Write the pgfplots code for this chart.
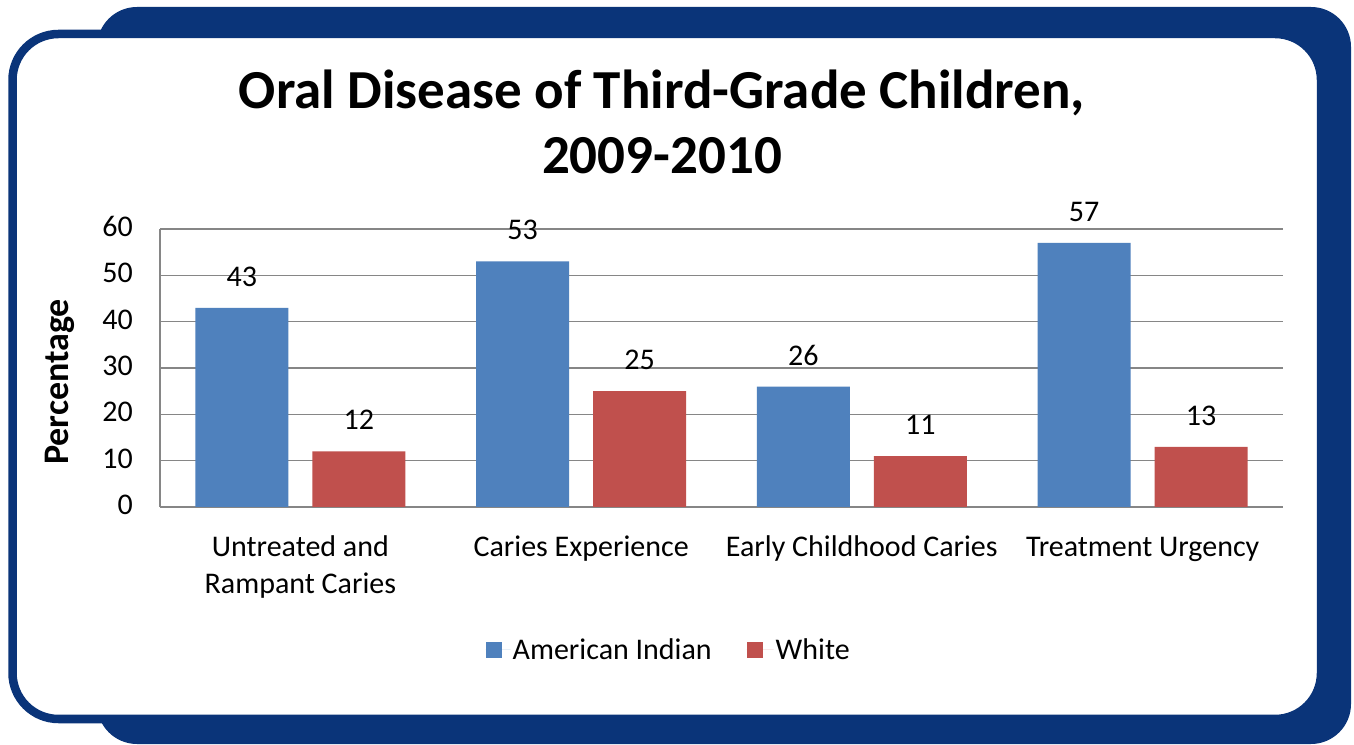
\documentclass[border=0pt]{standalone}
\usepackage{fontspec}
\setmainfont{Carlito}
\usepackage{pgfplots}
\pgfplotsset{compat=1.18}
\definecolor{frameblue}{HTML}{0A3479}
\definecolor{barblue}{HTML}{4F81BD}
\definecolor{barred}{HTML}{C0504D}
\definecolor{gridgray}{HTML}{868686}
\begin{document}
\begin{tikzpicture}[x=1pt,y=1pt]
\path (0,0) rectangle (1354,744);
\fill[frameblue, rounded corners=40pt] (97,0) rectangle (1351,737);
\filldraw[fill=white, draw=frameblue, line width=8.5pt, rounded corners=46pt] (12.5,710) rectangle (1321,25);
\begin{axis}[
  at={(160pt,237pt)}, anchor=south west, scale only axis,
  width=1123pt, height=278pt,
  xmin=-0.5, xmax=3.5, ymin=0, ymax=60,
  ytick={0,10,...,60}, xtick={0,1,2,3},
  xticklabels={{Untreated and\\Rampant Caries},{Caries Experience},{Early Childhood Caries},{Treatment Urgency}},
  axis x line*=bottom, axis y line*=left,
  axis line style={gridgray, line width=1.6pt, -},
  ymajorgrids, grid style={gridgray, line width=1.6pt},
  major tick length=0pt,
  /pgf/number format/assume math mode=true,
  tick label style={font=\fontsize{30pt}{37pt}\selectfont},
  xticklabel style={align=center, anchor=north, inner sep=0pt, yshift=-23pt},
  typeset ticklabels with strut,
  yticklabel style={anchor=east, inner sep=0pt, xshift=-27pt},
  ylabel={Percentage},
  every axis y label/.style={at={(rel axis cs:0,0.45)}, rotate=90, anchor=center, yshift=100pt,
    font=\bfseries\fontsize{36pt}{42pt}\selectfont},
  title={Oral Disease of Third-Grade Children,\\2009-2010},
  title style={font=\bfseries\fontsize{55pt}{65pt}\selectfont, align=center, at={(rel axis cs:0.447,1.55)}, anchor=north, inner sep=0pt},
  ybar,
  nodes near coords,
  every node near coord/.append style={font=\fontsize{30pt}{36pt}\selectfont, anchor=base, yshift=21.5pt, inner sep=0pt},
  legend style={at={(rel axis cs:0.453,-0.514)}, anchor=center, draw=none, legend columns=2,
    font=\fontsize{30pt}{36pt}\selectfont,
    /tikz/every even column/.append style={column sep=33pt}},
]
\addplot[ybar, fill=barblue, draw=none, bar width=93pt, bar shift=-58.5pt,
  legend image code/.code={\fill[barblue] (0pt,-8pt) rectangle (16pt,8pt); \path (0pt,0pt) -- (25pt,0pt);}]
  coordinates {(0,43) (1,53) (2,26) (3,57)};
\addlegendentry{American Indian}
\addplot[ybar, fill=barred, draw=none, bar width=93pt, bar shift=58.5pt,
  legend image code/.code={\fill[barred] (0pt,-8pt) rectangle (16pt,8pt); \path (0pt,0pt) -- (27pt,0pt);}]
  coordinates {(0,12) (1,25) (2,11) (3,13)};
\addlegendentry{White}
\end{axis}
\end{tikzpicture}
\end{document}
